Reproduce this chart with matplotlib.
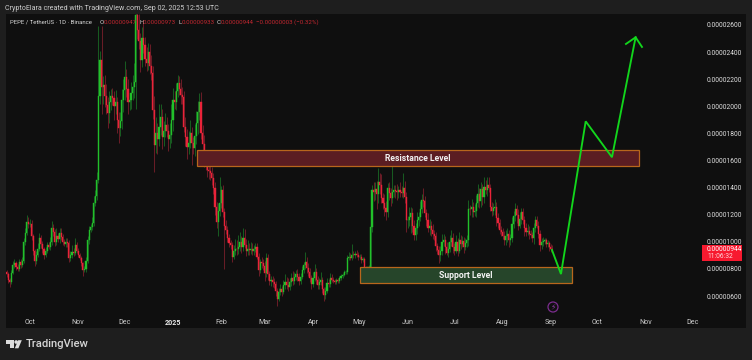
import matplotlib
matplotlib.use("Agg")
import matplotlib.pyplot as plt
import matplotlib.dates as mdates
import matplotlib.patches as mp
import pandas as pd

# Daily closes, in units of 0.00000001 USDT
c_sep24 = [760,720,705,770,830,845,815,800,850,830,860,1000,1065,1145,1130]
c_oct = [1135,1040,930,860,905,950,1025,985,950,900,935,975,960,1000,1100,1075,1000,1040,1020,1065,1035,1000,985,1000,990,880,905,925,920,975,935]
c_nov = [905,880,840,790,800,860,1010,1085,1110,1140,1285,1340,1455,2075,2340,2140,2160,2075,2010,1950,2030,2075,2060,2000,2030,1900,1840,1890,2045,2120]
c_dec = [2215,2130,2030,2050,2100,2140,2180,2670,2560,2480,2340,2505,2450,2350,2320,2400,2300,2245,1975,1715,1800,1760,1850,1920,1775,1820,1860,1820,1760,1790,1900]
c_jan = [2045,2030,2110,2170,2130,2080,2070,1850,1770,1700,1730,1800,1730,1690,1780,1875,1960,2030,1800,1720,1600,1570,1530,1520,1505,1470,1395,1255,1145,1230,1290]
c_feb = [1380,1220,1120,1090,1025,990,975,890,930,950,945,960,1000,960,1025,980,935,950,940,950,930,945,960,890,790,850,840,825]
c_mar = [770,880,760,710,720,700,690,640,580,630,650,630,680,700,680,665,700,735,710,740,760,740,710,740,790,830,850,810,775,730,690]
c_apr = [730,775,720,680,700,715,650,605,640,695,690,735,720,710,700,715,710,730,745,755,775,780,880,890,880,905,900,910,905,890]
c_may = [890,865,870,810,790,800,815,1110,1380,1370,1390,1350,1440,1420,1320,1290,1250,1220,1395,1360,1325,1370,1380,1375,1370,1380,1370,1360,1400,1330,1160]
c_jun = [1160,1185,1210,1120,1050,1100,1160,1180,1240,1305,1300,1210,1160,1100,1120,1090,1060,1040,970,940,900,930,1000,1010,960,920,950,1000,1025,960]
c_jul = [935,1000,935,1010,985,1005,960,990,1010,1245,1240,1255,1220,1230,1285,1350,1300,1390,1330,1405,1380,1420,1395,1255,1230,1250,1255,1175,1140,1090,1070]
c_aug = [1040,1010,1040,1060,1010,1030,1135,1190,1245,1200,1120,1170,1220,1160,1100,1070,1080,1060,1050,1025,1100,1160,1120,1060,975,1000,1005,1010,985,990,960]
c_sep25 = [947,944]

# Upper wick lengths
u_sep24 = [15,20,10,20,25,30,15,20,25,20,30,30,35,55,40]
u_oct = [30,25,20,15,25,40,40,25,20,15,30,25,25,35,50,30,20,60,25,40,40,25,20,30,25,20,30,55,30,50,25]
u_nov = [20,15,15,10,20,30,30,35,25,40,50,40,60,515,70,250,60,70,90,60,80,50,60,50,90,40,60,70,80,80]
u_dec = [120,60,70,50,80,90,140,30,80,120,60,80,110,60,90,70,60,80,50,100,120,80,170,100,60,70,90,60,50,90,120]
u_jan = [90,70,60,60,50,70,60,40,70,60,90,100,50,40,90,90,80,70,75,60,70,60,60,50,60,50,40,50,40,60,190]
u_feb = [30,40,30,40,30,30,20,25,45,70,60,90,70,40,80,70,40,60,40,50,40,30,30,30,25,25,40,30]
u_mar = [30,40,30,25,30,25,30,20,20,30,35,25,40,60,40,50,30,35,50,35,30,40,30,30,35,20,75,40,30,30,25]
u_apr = [50,60,30,25,30,65,25,20,30,40,30,35,25,20,15,15,15,15,15,15,15,15,20,35,25,80,30,25,30,20]
u_may = [20,20,15,15,15,20,15,20,40,60,50,60,105,70,80,40,60,50,40,50,40,230,40,40,50,30,60,40,105,50,40]
u_jun = [30,70,50,40,40,40,60,40,60,50,90,40,30,50,50,30,40,30,30,20,30,40,60,50,30,40,50,50,60,40]
u_jul = [30,50,30,60,40,40,30,40,40,60,30,60,40,50,60,80,50,50,40,70,50,60,60,30,40,40,60,40,40,30,30]
u_aug = [30,40,50,40,30,30,50,40,40,30,40,50,30,30,30,40,50,40,30,20,40,30,30,30,30,30,30,20,20,20,15]
u_sep25 = [25,29]

# Lower wick lengths
d_sep24 = [20,25,35,15,10,25,20,15,15,20,15,20,20,15,30]
d_oct = [20,25,30,40,25,15,20,30,30,25,15,20,15,20,20,30,30,20,25,30,25,20,15,20,30,30,20,25,25,15,15]
d_nov = [20,15,20,40,15,20,20,25,15,20,25,20,30,20,60,200,120,80,70,110,70,60,50,100,60,100,110,60,60,90]
d_dec = [70,60,90,60,70,50,80,200,60,60,90,50,60,50,60,50,60,50,70,200,60,110,50,60,90,70,50,50,90,70,60]
d_jan = [80,50,60,40,50,60,50,40,60,90,50,40,165,40,60,60,80,60,40,50,50,40,50,60,50,50,40,60,40,100,40]
d_feb = [40,40,320,30,30,25,30,40,20,30,40,35,30,40,30,25,40,30,35,30,25,25,20,20,40,20,30,30]
d_mar = [60,30,40,30,35,30,30,40,50,20,25,30,15,30,25,30,20,25,30,25,20,30,30,20,15,20,30,40,30,30,35]
d_apr = [25,20,30,30,25,20,30,45,25,20,20,20,15,15,15,15,15,15,15,10,10,10,15,15,15,15,20,20,20,25]
d_may = [15,20,15,20,20,15,40,15,40,70,60,110,60,70,30,50,60,60,40,50,60,40,40,50,60,50,40,30,40,40,90]
d_jun = [60,40,120,50,40,40,40,40,30,30,40,30,40,30,50,50,40,30,40,30,55,40,30,30,50,20,30,25,30,40]
d_jul = [30,20,40,20,40,20,40,20,30,40,40,60,40,30,50,30,50,40,60,40,30,40,30,30,40,30,50,60,40,30,30]
d_aug = [20,30,30,40,50,30,30,30,40,60,30,20,40,30,60,30,20,40,25,30,40,30,20,30,40,30,30,20,25,20,25]
d_sep25 = [20,11]

closes = c_sep24 + c_oct + c_nov + c_dec + c_jan + c_feb + c_mar + c_apr + c_may + c_jun + c_jul + c_aug + c_sep25
up_wicks = u_sep24 + u_oct + u_nov + u_dec + u_jan + u_feb + u_mar + u_apr + u_may + u_jun + u_jul + u_aug + u_sep25
dn_wicks = d_sep24 + d_oct + d_nov + d_dec + d_jan + d_feb + d_mar + d_apr + d_may + d_jun + d_jul + d_aug + d_sep25
first_open = 775
assert len(closes) == len(up_wicks) == len(dn_wicks), (len(closes), len(up_wicks), len(dn_wicks))

dates = pd.date_range("2024-09-16", periods=len(closes))
price_ticks = [600, 800, 1000, 1200, 1400, 1600, 1800, 2000, 2200, 2400, 2600]
time_ticks = ["2024-10-01","2024-11-01","2024-12-01","2025-01-01","2025-02-01","2025-03-01","2025-04-01",
              "2025-05-01","2025-06-01","2025-07-01","2025-08-01","2025-09-01","2025-10-01","2025-11-01","2025-12-01"]
time_labels = ["Oct","Nov","Dec","2025","Feb","Mar","Apr","May","Jun","Jul","Aug","Sep","Oct","Nov","Dec"]

# Drawing annotations (days after 2024-10-01, price)
resistance = (107.4, 391.4, 1558, 1678)
support = (212.0, 348.5, 695, 815)
path_days = [335.7, 341.5, 357.4, 374.3, 389.5]
path_prices = [940, 762, 1889, 1624, 2509]
head_days = [383.3, 389.5, 393.6]
head_prices = [2460, 2509, 2438]

BG = "#1e1e1e"; PANEL = "#0f0f0f"
UP = "#22c02a"; DN = "#ea2339"; UPW = "#175a20"; DNW = "#681c26"
FONT = "Roboto"
plt.rcParams["font.family"] = [FONT, "DejaVu Sans"]

W, H = 752, 360
fig = plt.figure(figsize=(W/100, H/100), dpi=100, facecolor=BG)
ax = fig.add_axes([6/W, 1-328/H, 740/W, 314/H], facecolor=PANEL)
for s in ax.spines.values():
    s.set_visible(False)

xs = mdates.date2num(dates)
base = mdates.date2num(pd.Timestamp("2024-10-01"))
opens = [first_open] + closes[:-1]
for x, o, c, u, d in zip(xs, opens, closes, up_wicks, dn_wicks):
    up = c >= o
    hi, lo = max(o, c), min(o, c)
    ax.vlines(x, lo - d, hi + u, color=UPW if up else DNW, lw=0.75, zorder=2)
for x, o, c in zip(xs, opens, closes):
    up = c >= o
    hi, lo = max(o, c), min(o, c)
    ax.bar(x, hi - lo, bottom=lo, width=0.72, color=UP if up else DN,
           edgecolor=UP if up else DN, linewidth=0.3, zorder=3)

ax.set_xlim(base - 15.43, base + 460.5)
ax.set_ylim(364, 2681)

ax.yaxis.tick_right()
ax.set_yticks(price_ticks)
ax.set_yticklabels([f"{v/1e8:.8f}" for v in price_ticks])
ax.tick_params(axis="y", length=0, pad=-28.3, labelsize=4.75, labelcolor="#e0e0e0")
ax.set_xticks([mdates.date2num(pd.Timestamp(t)) for t in time_ticks])
ax.set_xticklabels(time_labels)
ax.tick_params(axis="x", length=0, pad=-6.8, labelsize=5.1, labelcolor="#cccccc")
for lab in ax.get_xticklabels():
    if lab.get_text() == "2025":
        lab.set_fontweight("bold")
        lab.set_color("#e6e6e6")

def band(rect, fill, label, label_day):
    x0, x1, y0, y1 = rect
    ax.add_patch(mp.Rectangle((base + x0, y0), x1 - x0, y1 - y0, facecolor=fill,
                              edgecolor="#b8661c", linewidth=0.9, zorder=4))
    ax.text(base + label_day, (y0 + y1) / 2, label, color="#f2f2f2", fontsize=6.2, fontweight="bold",
            ha="center", va="center", zorder=6)

band(resistance, "#5b1d22", "Resistance Level", 249.5)
band(support, "#26452a", "Support Level", 280.3)

ax.plot([base + d for d in path_days], path_prices, color="#12d61c", lw=1.35, zorder=7, solid_joinstyle="miter")
ax.plot([base + d for d in head_days], head_prices, color="#12d61c", lw=1.35, zorder=7, solid_joinstyle="miter")

def px(x, y):
    return x / W, 1 - y / H

def ftext(x, y, s, **kw):
    kw.setdefault("va", "center")
    kw.setdefault("ha", "left")
    kw.setdefault("zorder", 20)
    return fig.text(*px(x, y), s, **kw)

ftext(5, 8, "CryptoElara created with TradingView.com, Sep 02, 2025 12:53 UTC", color="#cfcfcf", fontsize=5.15)
ftext(9.5, 22, "PEPE / TetherUS · 1D · Binance", color="#d8d8d8", fontsize=4.35)
RED = "#c1272f"
for lx, letter, vx, val in [(100, "O", 104, "0.00000947"), (139, "H", 143, "0.00000973"),
                            (178.5, "L", 182, "0.00000933"), (217, "C", 221, "0.00000944")]:
    ftext(lx, 22, letter, color="#d8d8d8", fontsize=4.4)
    ftext(vx, 22, val, color=RED, fontsize=4.4)
ftext(256.5, 22, "−0.00000003 (−0.32%)", color=RED, fontsize=4.4)

fig.add_artist(mp.Rectangle(px(702.3, 261), 39.4/W, 16/H, transform=fig.transFigure,
                            facecolor="#f7192f", edgecolor="none", zorder=15))
ftext(707, 249.5, "0.00000944", color="#ffffff", fontsize=4.75)
ftext(707, 257, "11:06:32", color="#ffd9dc", fontsize=4.75)

# Event marker
cx, cy = px(553, 307)
fig.add_artist(mp.Ellipse((cx, cy), 10/W, 10/H, transform=fig.transFigure, facecolor="none",
                          edgecolor="#7b2d8e", linewidth=0.9, zorder=15))
fig.text(cx, cy, "\u26a1", color="#8a3aa0", fontsize=5.5, ha="center", va="center",
         family="DejaVu Sans", zorder=16)

# Logo
def poly(points, color="#dcdcdc"):
    fig.add_artist(mp.Polygon([px(*p) for p in points], closed=True, transform=fig.transFigure,
                              facecolor=color, edgecolor="none", zorder=15))

poly([(6.3, 340.2), (14, 340.2), (14, 348.3), (10.2, 348.3), (10.2, 343.8), (6.3, 343.8)])
fig.add_artist(mp.Ellipse(px(16.2, 342), 3.6/W, 3.6/H, transform=fig.transFigure, facecolor="#dcdcdc",
                          edgecolor="none", zorder=15))
poly([(18.2, 340.2), (21.8, 340.2), (18.4, 348.3), (14.8, 348.3)])
ftext(25.5, 344.3, "TradingView", color="#d6d6d6", fontsize=8.1, fontweight="medium")

fig.savefig("out.png", dpi=100, facecolor=BG)
